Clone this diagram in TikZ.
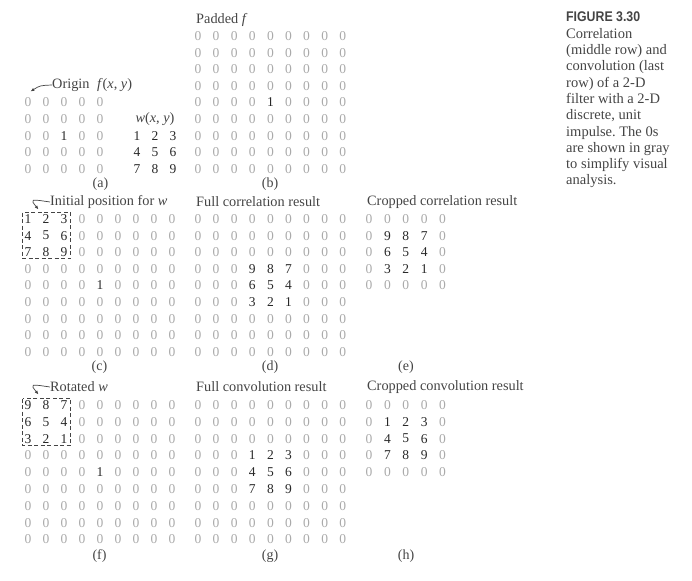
\documentclass[tikz,border=0pt]{standalone}
\usepackage{fontspec}
\setmainfont{Liberation Serif}
\newfontfamily\figfont[FakeStretch=0.88]{Liberation Sans}
\usetikzlibrary{arrows.meta}
\definecolor{zerogray}{RGB}{170,170,170}
\definecolor{digitdark}{RGB}{40,40,40}
\definecolor{labelgray}{RGB}{68,68,68}
% one row of a grid: name, row, first x, step, y, values
\newcommand{\cellrow}[6]{%
  \edef\rowlist{#6}%
  \foreach \v [count=\k from 1] in \rowlist {%
    \ifnum\v=0
      \node[zero] (#1-#2-\k) at ({#3+#4*(\k-1)},{#5}) {0};
    \else
      \node[digit] (#1-#2-\k) at ({#3+#4*(\k-1)},{#5}) {\v};
    \fi}}

\begin{document}
\begin{tikzpicture}[x=1pt, y=-1pt,
  zero/.style={text=zerogray, inner sep=0pt, font=\fontsize{13.5}{14}\selectfont},
  digit/.style={text=digitdark, inner sep=0pt, font=\fontsize{13.5}{14}\selectfont},
  heading/.style={text=labelgray, inner sep=0pt, anchor=west, font=\fontsize{14.3}{16}\selectfont},
  sublabel/.style={text=labelgray, inner sep=0pt, font=\fontsize{14}{16}\selectfont},
  wbox/.style={draw=labelgray, dash pattern=on 4pt off 2.5pt, line width=0.7pt},
  pointer/.style={-{Latex[length=4pt,width=3.2pt]}, line width=0.7pt, draw=labelgray}]
\useasboundingbox (0,0) rectangle (692,580);

% (a) f and w
\node[heading] (origin) at (52,85) {Origin\hspace{7.5pt}\textit{f}(\textit{x}, \textit{y})};
\coordinate (otip) at (30.5,91.5);
\draw[pointer] (origin.west) .. controls (40,85.5) .. (otip);
\foreach \vals [count=\r from 1] in {{0,0,0,0,0},{0,0,0,0,0},{0,0,1,0,0},{0,0,0,0,0},{0,0,0,0,0}}
  {\cellrow{a}{\r}{28}{18}{102.4+16.6*(\r-1)}{\vals}}
\node[heading, anchor=center] (wxy) at (155,119) {\textit{w}(\textit{x}, \textit{y})};
\foreach \vals [count=\r from 1] in {{1,2,3},{4,5,6},{7,8,9}}
  {\cellrow{w}{\r}{137}{18}{135.6+16.6*(\r-1)}{\vals}}
\node[sublabel] (la) at (100.5,184) {(a)};

% (b) padded f
\node[heading] (padded) at (196,20) {Padded \textit{f}};
\foreach \vals [count=\r from 1] in {{0,0,0,0,0,0,0,0,0},{0,0,0,0,0,0,0,0,0},{0,0,0,0,0,0,0,0,0},
  {0,0,0,0,0,0,0,0,0},{0,0,0,0,1,0,0,0,0},{0,0,0,0,0,0,0,0,0},{0,0,0,0,0,0,0,0,0},
  {0,0,0,0,0,0,0,0,0},{0,0,0,0,0,0,0,0,0}}
  {\cellrow{b}{\r}{198}{18.1}{36+16.6*(\r-1)}{\vals}}
\node[sublabel] (lb) at (270,184) {(b)};

% (c) initial position of w
\node[heading] (initpos) at (50,202) {Initial position for \textit{w}};
\coordinate (ctip) at (38.5,209.5);
\draw[pointer] (initpos.west) .. controls (30,199) .. (ctip);
\foreach \vals [count=\r from 1] in {{1,2,3,0,0,0,0,0,0},{4,5,6,0,0,0,0,0,0},{7,8,9,0,0,0,0,0,0},
  {0,0,0,0,0,0,0,0,0},{0,0,0,0,1,0,0,0,0},{0,0,0,0,0,0,0,0,0},{0,0,0,0,0,0,0,0,0},
  {0,0,0,0,0,0,0,0,0},{0,0,0,0,0,0,0,0,0}}
  {\cellrow{c}{\r}{28}{18}{219+16.6*(\r-1)}{\vals}}
\draw[wbox] (22.5,212.5) rectangle (70.5,258.5);
\node[sublabel] (lc) at (99.5,367) {(c)};

% (d) full correlation
\node[heading] (fullcorr) at (196,202) {Full correlation result};
\foreach \vals [count=\r from 1] in {{0,0,0,0,0,0,0,0,0},{0,0,0,0,0,0,0,0,0},{0,0,0,0,0,0,0,0,0},
  {0,0,0,9,8,7,0,0,0},{0,0,0,6,5,4,0,0,0},{0,0,0,3,2,1,0,0,0},{0,0,0,0,0,0,0,0,0},
  {0,0,0,0,0,0,0,0,0},{0,0,0,0,0,0,0,0,0}}
  {\cellrow{d}{\r}{198}{18.1}{219+16.6*(\r-1)}{\vals}}
\node[sublabel] (ld) at (270,367) {(d)};

% (e) cropped correlation
\node[heading] (cropcorr) at (367,202) {Cropped correlation result};
\foreach \vals [count=\r from 1] in {{0,0,0,0,0},{0,9,8,7,0},{0,6,5,4,0},{0,3,2,1,0},{0,0,0,0,0}}
  {\cellrow{e}{\r}{369}{18.4}{219+16.6*(\r-1)}{\vals}}
\node[sublabel] (le) at (406,367) {(e)};

% (f) rotated w
\node[heading] (rotw) at (50,387) {Rotated \textit{w}};
\coordinate (ftip) at (38.5,394.5);
\draw[pointer] (rotw.west) .. controls (30,384) .. (ftip);
\foreach \vals [count=\r from 1] in {{9,8,7,0,0,0,0,0,0},{6,5,4,0,0,0,0,0,0},{3,2,1,0,0,0,0,0,0},
  {0,0,0,0,0,0,0,0,0},{0,0,0,0,1,0,0,0,0},{0,0,0,0,0,0,0,0,0},{0,0,0,0,0,0,0,0,0},
  {0,0,0,0,0,0,0,0,0},{0,0,0,0,0,0,0,0,0}}
  {\cellrow{f}{\r}{28}{18}{405+16.8*(\r-1)}{\vals}}
\draw[wbox] (22.5,398.5) rectangle (70.5,445.5);
\node[sublabel] (lf) at (99.5,556) {(f)};

% (g) full convolution
\node[heading] (fullconv) at (196,387) {Full convolution result};
\foreach \vals [count=\r from 1] in {{0,0,0,0,0,0,0,0,0},{0,0,0,0,0,0,0,0,0},{0,0,0,0,0,0,0,0,0},
  {0,0,0,1,2,3,0,0,0},{0,0,0,4,5,6,0,0,0},{0,0,0,7,8,9,0,0,0},{0,0,0,0,0,0,0,0,0},
  {0,0,0,0,0,0,0,0,0},{0,0,0,0,0,0,0,0,0}}
  {\cellrow{g}{\r}{198}{18.1}{405+16.8*(\r-1)}{\vals}}
\node[sublabel] (lg) at (270,556) {(g)};

% (h) cropped convolution
\node[heading] (cropconv) at (367,387) {Cropped convolution result};
\foreach \vals [count=\r from 1] in {{0,0,0,0,0},{0,1,2,3,0},{0,4,5,6,0},{0,7,8,9,0},{0,0,0,0,0}}
  {\cellrow{h}{\r}{369}{18.4}{405+16.8*(\r-1)}{\vals}}
\node[sublabel] (lh) at (406,556) {(h)};

% caption
\node[anchor=north west, inner sep=0pt, align=left, text=labelgray,
  font=\fontsize{14.5}{16.3}\selectfont\frenchspacing] (caption) at (566,12)
  {{\figfont\bfseries\fontsize{14}{16.3}\selectfont FIGURE 3.30}\\
   Correlation\\(middle row) and\\convolution (last\\row) of a 2-D\\filter with a 2-D\\
   discrete, unit\\impulse. The 0s\\are shown in gray\\to simplify visual\\analysis.};
\end{tikzpicture}
\end{document}
